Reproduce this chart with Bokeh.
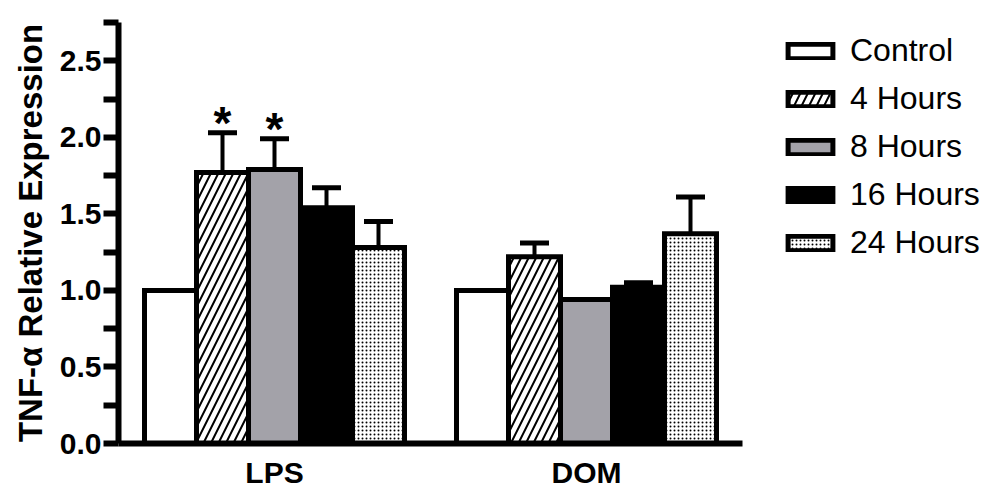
from bokeh.plotting import figure
from bokeh.models import (Range1d, ColumnDataSource, Whisker, TeeHead,
                          FixedTicker, PrintfTickFormatter, Legend, LegendItem)
from bokeh.transform import dodge
from bokeh.core.properties import value
from bokeh.embed import file_html
from bokeh.resources import INLINE

# ---------------- data ----------------
groups = ["LPS", "DOM"]
series = ["Control", "4 Hours", "8 Hours", "16 Hours", "24 Hours"]
lps_values = [1.00, 1.77, 1.79, 1.54, 1.28]
lps_errors = [0.00, 0.26, 0.20, 0.13, 0.17]
dom_values = [1.00, 1.22, 0.94, 1.02, 1.37]
dom_errors = [0.00, 0.09, 0.00, 0.03, 0.24]
lps_marks = ["", "*", "*", "", ""]
dom_marks = ["", "", "", "", ""]
y_ticks = [0.0, 0.5, 1.0, 1.5, 2.0, 2.5]
y_minor_ticks = [0.25, 0.75, 1.25, 1.75, 2.25, 2.75]
y_title = "TNF-\u03b1 Relative Expression"

# ---------------- styles / layout ----------------
FONT = "Liberation Sans"
fills = ["white", "white", "#a3a2a9", "black", "white"]
hatches = [None, "/", None, None, "."]
hatch_scales = [15, 15, 15, 15, 4]
hatch_weights = [2, 2, 2, 2, 1.3]

W, H = 1000, 493
LEFT, TOP, BOTTOM = 118, 22, 50
GROUP_PX = 312                      # pixels per group slot
x_end = (W - LEFT) / GROUP_PX       # frame extends under the legend
group_pos = [i + 0.5 for i in range(len(groups))]

p = figure(width=W, height=H,
           x_range=Range1d(0, x_end), y_range=Range1d(0, 2.75),
           output_backend="svg", toolbar_location=None,
           min_border_left=LEFT, min_border_right=0,
           min_border_top=TOP, min_border_bottom=BOTTOM)
p.xgrid.grid_line_color = None
p.ygrid.grid_line_color = None
p.outline_line_color = None
p.background_fill_color = "white"
p.border_fill_color = "white"

n = len(series)
bar_w = 1.0 / (n + 1)
items = []
for i, s in enumerate(series):
    off = (i - (n - 1) / 2) * bar_w
    vals = [lps_values[i], dom_values[i]]
    errs = [lps_errors[i], dom_errors[i]]
    marks = [lps_marks[i], dom_marks[i]]
    src = ColumnDataSource(dict(x=group_pos, value=vals,
                                upper=[v + e for v, e in zip(vals, errs)],
                                mark=marks))
    xs = dodge("x", off)
    kw = {}
    if hatches[i]:
        kw = dict(hatch_pattern=hatches[i], hatch_color="black",
                  hatch_scale=hatch_scales[i], hatch_weight=hatch_weights[i])
    r = p.vbar(x=xs, top="value", bottom=0, width=bar_w, source=src,
               fill_color=fills[i], line_color="black", line_width=5,
               line_join="miter", **kw)
    items.append(LegendItem(label=s, renderers=[r]))

    # error bars (only where an error exists)
    keep = [k for k, e in enumerate(errs) if e > 0]
    if keep:
        esrc = ColumnDataSource(dict(
            x=[group_pos[k] for k in keep],
            value=[vals[k] for k in keep],
            upper=[vals[k] + errs[k] for k in keep]))
        wk = Whisker(base=dodge("x", off), lower="value", upper="upper",
                     source=esrc, line_color="black", line_width=4,
                     upper_head=TeeHead(size=29, line_width=5, line_color="black"),
                     lower_head=None, level="underlay")
        p.add_layout(wk)

    # significance markers
    p.text(x=xs, y="upper", text="mark", source=src,
           text_font=value(FONT), text_font_style="bold",
           text_font_size="46px", text_align="center",
           text_baseline="alphabetic", y_offset=-10, text_color="black")

# ---------------- axes ----------------
ya = p.yaxis[0]
ya.ticker = FixedTicker(ticks=y_ticks, minor_ticks=y_minor_ticks)
ya.formatter = PrintfTickFormatter(format="%.1f")
ya.axis_line_width = 6
ya.major_tick_line_width = 6
ya.minor_tick_line_width = 6
ya.major_tick_in = 0
ya.major_tick_out = 15
ya.minor_tick_in = 0
ya.minor_tick_out = 15
ya.major_label_standoff = 2
ya.major_label_text_font = FONT
ya.major_label_text_font_style = "bold"
ya.major_label_text_font_size = "30px"
ya.major_label_text_color = "black"
ya.axis_label = y_title
ya.axis_label_text_font = FONT
ya.axis_label_text_font_style = "bold"
ya.axis_label_text_font_size = "33px"
ya.axis_label_standoff = 8
ya.axis_label_text_color = "black"

xa = p.xaxis[0]
xa.ticker = FixedTicker(ticks=group_pos, minor_ticks=[])
xa.major_label_overrides = {gp: g for gp, g in zip(group_pos, groups)}
xa.bounds = (0, len(groups))
xa.axis_line_width = 6
xa.major_tick_line_color = None
xa.major_tick_out = 0
xa.major_tick_in = 0
xa.minor_tick_line_color = None
xa.major_label_standoff = 12
xa.major_label_text_font = FONT
xa.major_label_text_font_style = "bold"
xa.major_label_text_font_size = "30px"
xa.major_label_text_color = "black"

# ---------------- legend ----------------
legend = Legend(items=items, location=(664, 180),
                border_line_color=None, background_fill_alpha=0,
                padding=0, margin=0, spacing=7,
                label_height=41, glyph_height=18, glyph_width=56,
                label_standoff=12,
                label_text_font=FONT, label_text_font_size="32px",
                label_text_baseline="alphabetic", label_text_color="black")
p.add_layout(legend)

open("out.html", "w").write(file_html(p, INLINE))
